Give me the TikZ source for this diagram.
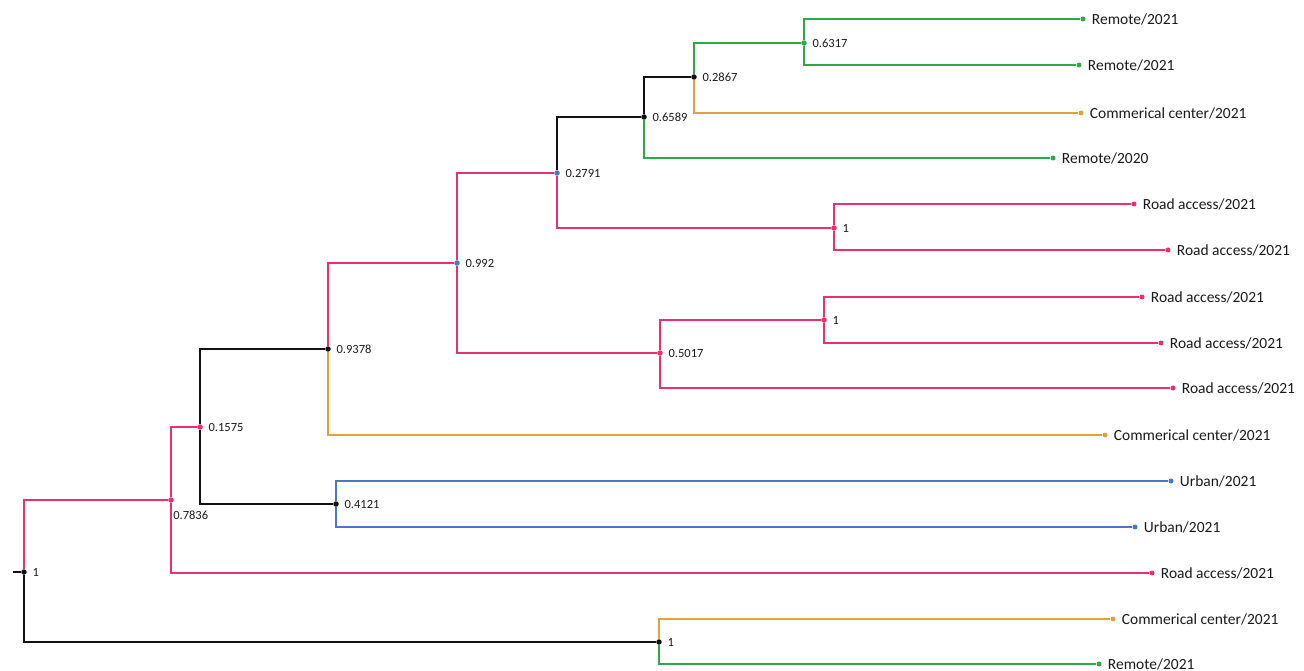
\documentclass[tikz,border=0pt]{standalone}
\usepackage{fontspec}
\setmainfont{Carlito}
\usetikzlibrary{positioning}
\definecolor{Road}{HTML}{E8306F}
\definecolor{Rem}{HTML}{2FA84A}
\definecolor{Com}{HTML}{E0A23A}
\definecolor{Urb}{HTML}{4A76C6}
\definecolor{Ink}{HTML}{111111}
\definecolor{Txt}{HTML}{1A1A1A}

\begin{document}
\begin{tikzpicture}[x=1pt,y=-1pt,
    dot/.style={circle,fill=#1,inner sep=0pt,minimum size=5.5pt},
    vlab/.style={font=\fontsize{12.5}{15}\selectfont,text=Txt,inner sep=0pt},
    leaflab/.style={font=\fontsize{15.5}{18}\selectfont,text=Txt,inner sep=0pt},
    br/.style={draw=#1,line width=2.2pt},
    brk/.style={draw=Ink,line width=2.8pt}]
  \useasboundingbox (0,0) rectangle (1304,671);
  % inner nodes of the tree
  \foreach \n/\x/\y/\c/\v in {
    root/24/572/Ink/1, b/200/427/Road/0.1575, c/328/349/Ink/0.9378,
    d/336/504/Ink/0.4121, e/457/263/Urb/0.992, f/557/173/Urb/0.2791,
    g/660/353/Road/0.5017, h/644/117/Ink/0.6589, i/694/77/Ink/0.2867,
    j/804/43/Rem/0.6317, k/834/228/Road/1, l/824/320/Road/1, m/659/642/Ink/1} {
    \node[dot=\c,label={[vlab,label distance=5.5pt]right:\v}] (\n) at (\x,\y) {};
  }
  \node[dot=Road,label={[vlab,anchor=north west,yshift=-9pt]south east:0.7836}] (a) at (171,500) {};
  % leaves
  \foreach \n/\x/\y/\c/\lab in {
    L1/1083/19/Rem/Remote\slash 2021, L2/1079/65/Rem/Remote\slash 2021,
    L3/1081/113/Com/Commerical center\slash 2021, L4/1053/158/Rem/Remote\slash 2020,
    L5/1134/204/Road/Road access\slash 2021, L6/1168/250/Road/Road access\slash 2021,
    L7/1142/297/Road/Road access\slash 2021, L8/1161/343/Road/Road access\slash 2021,
    L9/1173/388/Road/Road access\slash 2021, L10/1105/435/Com/Commerical center\slash 2021,
    L11/1171/481/Urb/Urban\slash 2021, L12/1135/527/Urb/Urban\slash 2021,
    L13/1152/573/Road/Road access\slash 2021, L14/1113/619/Com/Commerical center\slash 2021,
    L15/1099/664/Rem/Remote\slash 2021} {
    \node[dot=\c,minimum size=5pt,label={[leaflab,label distance=6pt]right:\lab}] (\n) at (\x,\y) {};
  }
  % branches
  \coordinate (stub) at (13,572);
  \draw[brk] (stub) -- (root);
  \foreach \p/\q/\c in {root/a/Road, a/b/Road, a/L13/Road, c/e/Road, c/L10/Com,
    d/L11/Urb, d/L12/Urb, e/f/Road, e/g/Road, f/k/Road, h/L4/Rem, i/j/Rem,
    i/L3/Com, j/L1/Rem, j/L2/Rem, k/L5/Road, k/L6/Road, g/l/Road, g/L9/Road,
    l/L7/Road, l/L8/Road, m/L14/Com, m/L15/Rem} {
    \draw[br=\c] (\p) |- (\q);
  }
  \foreach \p/\q in {root/m, b/c, b/d, f/h, h/i} {
    \draw[brk] (\p) |- (\q);
  }
\end{tikzpicture}
\end{document}
